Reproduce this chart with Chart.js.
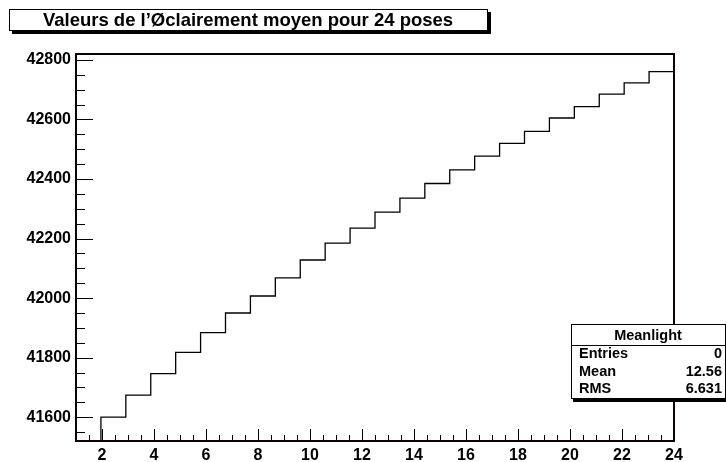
<!DOCTYPE html>
<html>
<head>
<meta charset="utf-8">
<script src="https://cdn.jsdelivr.net/npm/chart.js@4.4.1/dist/chart.umd.min.js"></script>
<style>
  html, body { margin: 0; padding: 0; background: #fff; }
  #wrap { width: 726px; height: 462px; position: relative; }
</style>
</head>
<body>
<div id="wrap"><canvas id="chartHisto" width="726" height="462"></canvas></div>
<script>
// histogram: 24 bins between xMin and xMax
var titleText = "Valeurs de l\u2019\u00D8clairement moyen pour 24 poses";
var xMin = 1, xMax = 24, nBins = 24;
var binValues = [
  41510, 41600, 41674, 41746, 41818, 41884, 41950, 42007,
  42068, 42128, 42185, 42235, 42289, 42336, 42385, 42431,
  42477, 42520, 42560, 42605, 42643, 42685, 42723, 42761,
];
var yMin = 41520, yMax = 42820;
var xTickLabels = [2, 4, 6, 8, 10, 12, 14, 16, 18, 20, 22, 24];
var yTickLabels = [41600, 41800, 42000, 42200, 42400, 42600, 42800];

var statsName = "Meanlight";
var statsLabels = ["Entries", "Mean", "RMS"];
var statsValues = ["0", "12.56", "6.631"];

var fontFam = "'Liberation Sans', Arial, Helvetica, sans-serif";

// bin edges -> points for the stepped outline
var binWidth = (xMax - xMin) / nBins;
var histPoints = binValues.map(function (v, i) {
  return { x: xMin + i * binWidth, y: v };
});
histPoints.push({ x: xMax, y: binValues[binValues.length - 1] });

var rootDecor = {
  id: "rootDecor",
  afterDraw: function (chart) {
    var c = chart.ctx, a = chart.chartArea;
    var xs = chart.scales.x, ys = chart.scales.y;
    c.save();
    c.strokeStyle = "#000";
    c.lineWidth = 1;

    // ticks inside the frame
    c.beginPath();
    yTickLabels.forEach(function (v) {
      var p = Math.round(ys.getPixelForValue(v)) + 0.5;
      c.moveTo(a.left, p); c.lineTo(a.left + 17, p);
      [-50, 50, 100, 150].forEach(function (d) {
        var m = v + d;
        if (m <= ys.min || m >= ys.max) return;
        if (d < 0 && v !== yTickLabels[0]) return;
        var q = Math.round(ys.getPixelForValue(m)) + 0.5;
        c.moveTo(a.left, q); c.lineTo(a.left + 9, q);
      });
    });
    for (var t = xMin + 0.5; t < xMax; t += 0.5) {
      var px = Math.round(xs.getPixelForValue(t)) + 0.5;
      var len = xTickLabels.indexOf(t) >= 0 ? 12 : 6;
      c.moveTo(px, a.bottom); c.lineTo(px, a.bottom - len);
    }
    c.stroke();

    // frame
    c.lineWidth = 2;
    c.strokeStyle = "#100";
    c.strokeRect(a.left, a.top, a.right - a.left, a.bottom - a.top);

    // title box with shadow
    c.fillStyle = "#000";
    c.fillRect(12, 12, 479, 22);
    c.fillStyle = "#fff";
    c.fillRect(9, 9, 479, 22);
    c.lineWidth = 1;
    c.strokeStyle = "#000";
    c.strokeRect(9.5, 9.5, 478, 21);
    c.fillStyle = "#000";
    c.font = "bold 18.5px " + fontFam;
    c.textAlign = "center";
    c.textBaseline = "alphabetic";
    c.fillText(titleText, 248, 26);

    // stats box
    c.fillStyle = "#000";
    c.fillRect(573, 326, 160, 76);
    c.fillStyle = "#fff";
    c.fillRect(571, 324, 155, 75);
    c.strokeRect(571.5, 324.5, 154, 74);
    c.beginPath();
    c.moveTo(571, 345.5); c.lineTo(726, 345.5);
    c.stroke();
    c.fillStyle = "#000";
    c.font = "bold 14.5px " + fontFam;
    c.textAlign = "center";
    c.fillText(statsName, 648, 340);
    statsLabels.forEach(function (lab, i) {
      var by = 358 + i * 17.5;
      c.textAlign = "left";
      c.fillText(lab, 579, by);
      c.textAlign = "right";
      c.fillText(statsValues[i], 722, by);
    });
    c.restore();
  },
};

var ctx = document.getElementById("chartHisto").getContext("2d");

const chartHisto = new Chart(ctx, {
  type: "line",
  data: {
    datasets: [
      {
        label: statsName,
        data: histPoints,
        borderColor: "#000",
        borderWidth: 1.3,
        stepped: true,
        fill: false,
        pointRadius: 0,
        tension: 0,
      },
    ],
  },
  options: {
    responsive: false,
    animation: false,
    layout: { padding: { top: 54, right: 52, bottom: 0, left: 0 } },
    plugins: {
      legend: { display: false },
      tooltip: { enabled: false },
    },
    scales: {
      x: {
        type: "linear",
        min: xMin,
        max: xMax,
        grid: { display: false, drawTicks: false },
        border: { display: false },
        afterBuildTicks: function (s) {
          s.ticks = xTickLabels.map(function (v) { return { value: v }; });
        },
        afterFit: function (s) { s.height = 21; },
        ticks: {
          color: "#000",
          padding: 5,
          maxRotation: 0,
          autoSkip: false,
          font: { family: fontFam, weight: "bold", size: 16 },
          callback: function (v) { return String(v); },
        },
      },
      y: {
        type: "linear",
        min: yMin,
        max: yMax,
        grid: { display: false, drawTicks: false },
        border: { display: false },
        afterBuildTicks: function (s) {
          s.ticks = yTickLabels.map(function (v) { return { value: v }; });
        },
        afterFit: function (s) { s.width = 76; },
        ticks: {
          color: "#000",
          padding: 5,
          autoSkip: false,
          font: { family: fontFam, weight: "bold", size: 16 },
          callback: function (v) { return String(v); },
        },
      },
    },
  },
  plugins: [rootDecor],
});
</script>
</body>
</html>
